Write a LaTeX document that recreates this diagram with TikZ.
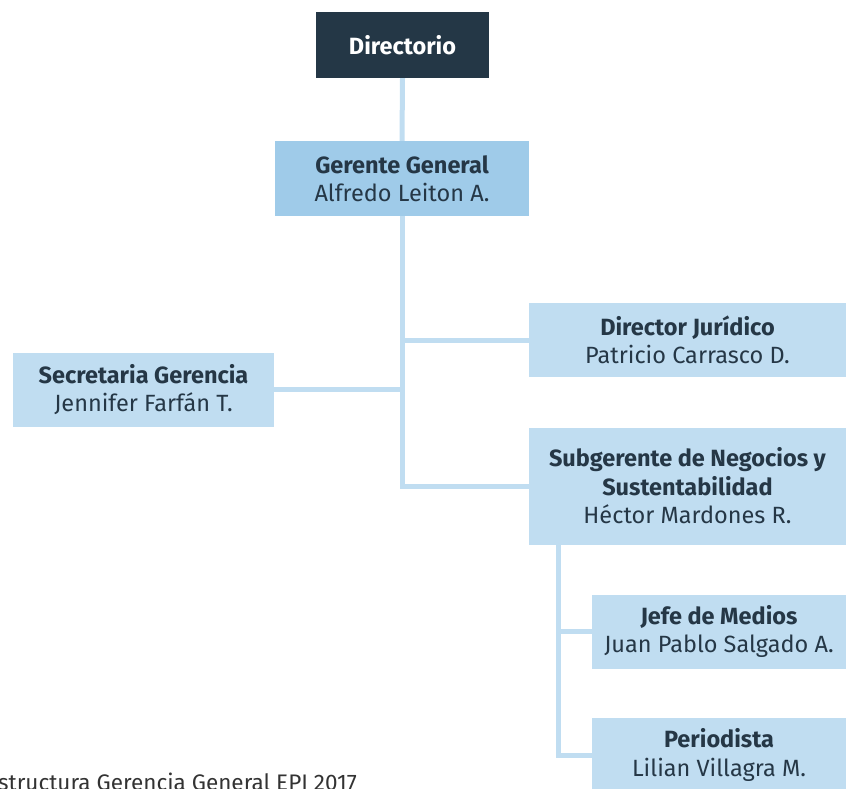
\documentclass[tikz,border=0pt]{standalone}
\usepackage{fontspec}
\setmainfont{Fira Sans}
\definecolor{darkbox}{HTML}{243746}
\definecolor{txt}{HTML}{253746}
\definecolor{lightbox}{HTML}{C0DDF1}
\definecolor{midbox}{HTML}{9FCBE9}
\definecolor{linec}{HTML}{C0DDF1}
\definecolor{captc}{HTML}{333333}
\begin{document}
\begin{tikzpicture}[x=1pt,y=-1pt,
  orgbox/.style={fill=lightbox, draw=none, align=center, text=txt, inner sep=0pt,
    font=\fontsize{23.5}{28.5}\selectfont},
  conn/.style={draw=linec, line width=5pt, line join=miter}]
\useasboundingbox (0,0) rectangle (846,788);
\clip (0,0) rectangle (846,788);
% nodes
\node[orgbox, fill=darkbox, text=white, minimum width=173pt, minimum height=66pt] (dir) at (402.5,45) {\textbf{Directorio}};
\node[orgbox, fill=midbox, minimum width=254pt, minimum height=75pt] (ger) at (402,178.5) {\textbf{Gerente General}\\Alfredo Leiton A.};
\node[orgbox, minimum width=317pt, minimum height=74pt] (jur) at (687.5,340) {\textbf{Director Jurídico}\\Patricio Carrasco D.};
\node[orgbox, minimum width=261pt, minimum height=74pt] (sec) at (143.5,389.5) {\textbf{Secretaria Gerencia}\\Jennifer Farfán T.};
\node[orgbox, minimum width=317pt, minimum height=117pt] (sub) at (687.5,486) {\textbf{Subgerente de Negocios y}\\\textbf{Sustentabilidad}\\Héctor Mardones R.};
\node[orgbox, minimum width=254pt, minimum height=74pt] (jefe) at (719,631.5) {\textbf{Jefe de Medios}\\Juan Pablo Salgado A.};
\node[orgbox, minimum width=254pt, minimum height=74pt] (peri) at (719,755) {\textbf{Periodista}\\Lilian Villagra M.};
\coordinate (sb) at (558.5,544.5);
% connectors
\draw[conn] (dir.south) -- (ger.north);
\draw[conn] (ger.south) |- (sub.west);
\draw[conn] (jur.west) -- (jur.west -| ger.south);
\draw[conn] (sec.east) -- (sec.east -| ger.south);
\draw[conn] (sb) |- (jefe.west);
\draw[conn] (sb) |- (peri.west);
% caption
\node[anchor=base east, inner sep=0pt, text=captc, font=\fontsize{22.5}{26}\selectfont] (cap) at (357,790) {Estructura Gerencia General EPI 2017};
\end{tikzpicture}
\end{document}
